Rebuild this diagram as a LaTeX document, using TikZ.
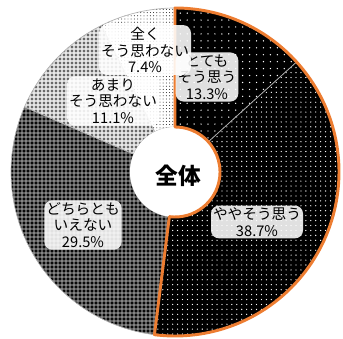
\documentclass[tikz,border=0pt]{standalone}
\usepackage{fontspec}
\newfontfamily\jp{Noto Sans CJK JP}
\usetikzlibrary{patterns.meta}
\definecolor{edgeorange}{RGB}{237,125,49}

\tikzset{
  lbl/.style={font=\jp\fontsize{11}{12.5}\selectfont, align=center, fill=white,
    fill opacity=.88, text opacity=1, rounded corners=6pt, inner sep=1.5pt},
  totemo/.style={preaction={fill=black}, pattern={Dots[distance=5.2pt,radius=.55pt]}, pattern color=white},
  yaya/.style={preaction={fill=black}, pattern={Dots[distance=3.7pt,radius=.5pt]}, pattern color=white},
  dochira/.style={preaction={fill=black!62}, preaction={pattern={Dots[distance=3pt,radius=1pt]}, pattern color=black},
    pattern={Dots[distance=3pt,xshift=1.5pt,yshift=1.5pt,radius=.45pt]}, pattern color=white},
  amari/.style={preaction={fill=black!18}, preaction={pattern={Dots[distance=3pt,radius=.7pt]}, pattern color=black},
    pattern={Dots[distance=3pt,xshift=1.5pt,yshift=1.5pt,radius=.6pt]}, pattern color=white},
  mattaku/.style={preaction={fill=white}, pattern={Dots[distance=2.4pt,radius=.35pt]}, pattern color=black},
}

\begin{document}
\begin{tikzpicture}[x=.75pt,y=.75pt]
  \useasboundingbox (0,0) rectangle (343,339);
  \coordinate (c) at (175,167);
  \def\R{164}
  \def\r{45}
  % slices, clockwise from the top
  \foreach \a/\b/\s in {90/42.12/totemo, 42.12/-97.2/yaya, -97.2/-203.4/dochira, -203.4/-243.36/amari, -243.36/-270/mattaku}
    \path[\s, draw=gray!60, line width=.5pt, shift={(c)}] (\a:\R) arc[start angle=\a, end angle=\b, radius=\R]
      -- (\b:\r) arc[start angle=\b, end angle=\a, radius=\r] -- cycle;
  \fill[white] (c) circle[radius=\r];
  \draw[edgeorange, line width=2.2pt, line join=round, shift={(c)}] (90:\R) arc[start angle=90, end angle=-97.2, radius=\R]
    -- (-97.2:\r) arc[start angle=-97.2, end angle=90, radius=\r] -- cycle;

  \node[font=\jp\bfseries\fontsize{17}{20}\selectfont] (total) at (178,163) {全体};
  \node[lbl] (l1) at (207,262) {とても\\そう思う\\13.3\%};
  \node[lbl] (l2) at (257,117) {ややそう思う\\38.7\%};
  \node[lbl] (l3) at (83,114) {どちらとも\\いえない\\29.5\%};
  \node[lbl] (l4) at (113,238) {あまり\\そう思わない\\11.1\%};
  \node[lbl] (l5) at (145,289) {全く\\そう思わない\\7.4\%};
\end{tikzpicture}
\end{document}
